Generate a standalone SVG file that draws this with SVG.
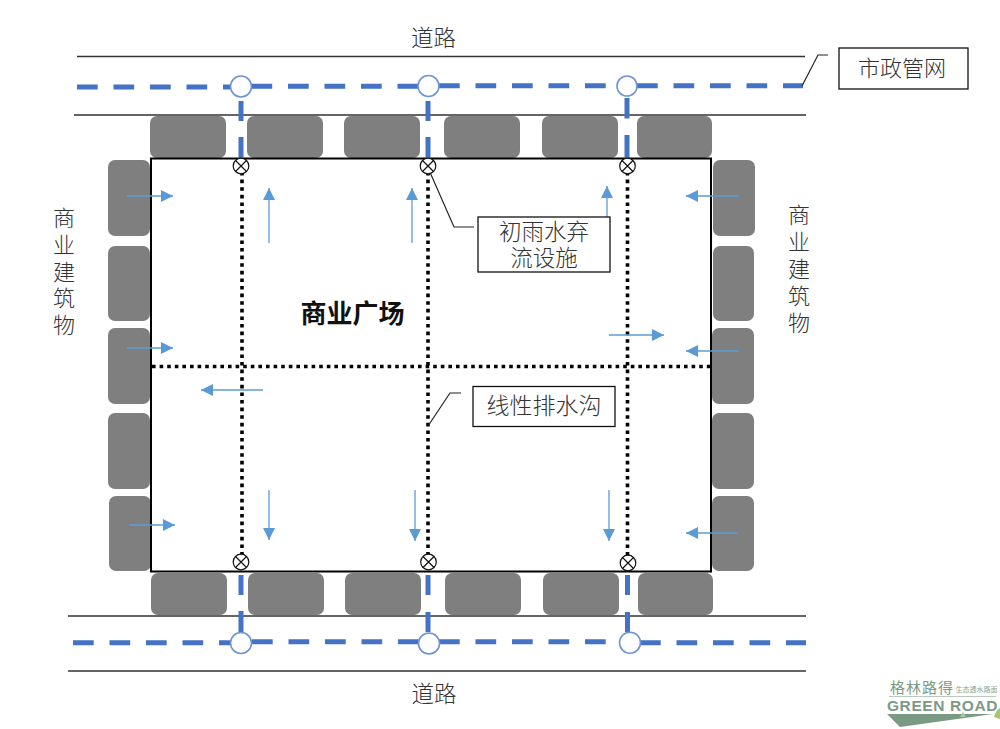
<svg xmlns="http://www.w3.org/2000/svg" width="1000" height="729" viewBox="0 0 1000 729">
<style>
text{font-family:"Liberation Sans","Noto Sans CJK SC",sans-serif;fill:#333;font-size:22px;font-weight:300;text-anchor:middle}
.b{fill:#7f7f7f;stroke:none}
.r{stroke:#333;stroke-width:1.4;fill:none}
.d{stroke:#4472c4;stroke-width:5;stroke-dasharray:20.7 15.8;fill:none}
.v{stroke:#4472c4;stroke-width:5;fill:none}
.o{fill:#fff;stroke:#6f94d6;stroke-width:1.6}
.dot{stroke:#000;stroke-width:3.6;stroke-dasharray:3.6 4;fill:none}
.a{stroke:#5b9bd5;stroke-width:1.3;fill:none;marker-end:url(#ah)}
.x{fill:#fff;stroke:#111;stroke-width:1.2}
.box{fill:#fff;stroke:#111;stroke-width:1.3}
.lead{fill:none;stroke:#222;stroke-width:1.2}
</style>
<defs>
<marker id="ah" markerUnits="userSpaceOnUse" markerWidth="13" markerHeight="12" refX="12" refY="6" orient="auto"><path d="M0 0L12 6L0 12Z" fill="#5b9bd5"/></marker>
<g id="xv"><circle r="7.800" class="x"/><path d="M-5.500-5.500L5.500 5.500M-5.500 5.500L5.500-5.500" stroke="#111" stroke-width="1.2"/></g>
</defs>
<rect width="1000" height="729" fill="#fff"/>
<g id="roads">
<path class="r" d="M77 56.500H805M74 115H806M68 616H806M68 671H806"/>
</g>
<g id="buildings">
<rect class="b" x="150" y="116" width="76" height="42" rx="7"/>
<rect class="b" x="247" y="116" width="76" height="42" rx="7"/>
<rect class="b" x="344" y="116" width="76" height="42" rx="7"/>
<rect class="b" x="444" y="116" width="76" height="42" rx="7"/>
<rect class="b" x="542" y="116" width="76" height="42" rx="7"/>
<rect class="b" x="637" y="116" width="75" height="42" rx="7"/>
<rect class="b" x="151" y="573" width="76" height="42" rx="7"/>
<rect class="b" x="248" y="573" width="76" height="42" rx="7"/>
<rect class="b" x="345" y="573" width="76" height="42" rx="7"/>
<rect class="b" x="445" y="573" width="76" height="42" rx="7"/>
<rect class="b" x="543" y="573" width="76" height="42" rx="7"/>
<rect class="b" x="638" y="573" width="75" height="42" rx="7"/>
<rect class="b" x="108" y="160" width="42" height="76" rx="7"/>
<rect class="b" x="108" y="246" width="42" height="75" rx="7"/>
<rect class="b" x="108" y="328" width="42" height="76" rx="7"/>
<rect class="b" x="108" y="413" width="42" height="76" rx="7"/>
<rect class="b" x="109" y="496" width="42" height="75" rx="7"/>
<rect class="b" x="713" y="160" width="42" height="76" rx="7"/>
<rect class="b" x="713" y="246" width="41" height="75" rx="7"/>
<rect class="b" x="712" y="328" width="42" height="76" rx="7"/>
<rect class="b" x="712" y="413" width="42" height="76" rx="7"/>
<rect class="b" x="712" y="496" width="42" height="75" rx="7"/>
</g>
<g id="connectors">
<rect x="151" y="158.500" width="560" height="413" fill="none" stroke="#000" stroke-width="2"/>
<path class="d" d="M77 87H241M251.500 86.200H428M439 85.700H627M637 85.700H803"/>
<path class="d" d="M73 642.700H241M252 641.700H429M439 641.700H630M640 642.700H806"/>
<path class="v" d="M241 101V121M241 137V158M428 101V121M428 137V158M627 98V118.500M627 135V158M241 575V595M241 611V632M428 575V595M428 612V632M627.500 575V595M627.500 612V632"/>
<path class="dot" d="M242 172V555M428 172V555M627.500 172V555M152 366.500H711"/>
<path class="a" d="M127 196H173"/>
<path class="a" d="M127 348H173"/>
<path class="a" d="M129 525H175"/>
<path class="a" d="M269 243V188"/>
<path class="a" d="M412 243V188"/>
<path class="a" d="M607 241V186"/>
<path class="a" d="M739 196H686"/>
<path class="a" d="M739 351H686"/>
<path class="a" d="M738 533H686"/>
<path class="a" d="M609 335H664"/>
<path class="a" d="M263 390H201"/>
<path class="a" d="M269 490V540"/>
<path class="a" d="M415 490V541"/>
<path class="a" d="M609 490V541"/>
<path class="lead" d="M429 170L454 227H474"/>
<path class="lead" d="M428 426L450 393H461"/>
<path class="lead" d="M802 86L818 55H828"/>
</g>
<g id="junctions">
<circle class="o" cx="241" cy="86.500" r="10.500"/>
<circle class="o" cx="428.500" cy="86" r="10.500"/>
<circle class="o" cx="627" cy="86" r="10"/>
<circle class="o" cx="241" cy="643" r="10.500"/>
<circle class="o" cx="429" cy="643.500" r="10.500"/>
<circle class="o" cx="630" cy="642.700" r="10.500"/>
<use href="#xv" x="241" y="166"/>
<use href="#xv" x="428" y="166"/>
<use href="#xv" x="627.500" y="166"/>
<use href="#xv" x="241" y="562"/>
<use href="#xv" x="428.500" y="562"/>
<use href="#xv" x="628" y="563"/>
</g>
<g id="labels">
<text x="433.500" y="46" style="font-size:22.500px">道路</text>
<text x="434" y="702" style="font-size:22.500px">道路</text>
<text x="352.500" y="323" style="font-size:26px;font-weight:700;fill:#111">商业广场</text>
<text><tspan x="64" y="226">商</tspan><tspan x="64" y="253">业</tspan><tspan x="64" y="279.500">建</tspan><tspan x="64" y="306">筑</tspan><tspan x="64" y="333">物</tspan></text>
<text><tspan x="799" y="223">商</tspan><tspan x="799" y="250">业</tspan><tspan x="799" y="277">建</tspan><tspan x="799" y="304">筑</tspan><tspan x="799" y="331">物</tspan></text>
</g>
<g id="box-shizheng"><rect class="box" x="839" y="48" width="129" height="41"/><text x="902" y="76">市政管网</text></g>
<g id="box-chuyu"><rect class="box" x="478" y="217" width="132" height="55"/><text style="font-size:22.500px"><tspan x="544" y="240">初雨水弃</tspan><tspan x="544" y="266">流设施</tspan></text></g>
<g id="box-paishui"><rect class="box" x="473" y="386.500" width="142" height="40"/><text x="544" y="414" style="font-size:23px">线性排水沟</text></g>
<g id="logo">
<text x="922" y="693" style="font-size:15px;font-weight:400;fill:#7b9a84;letter-spacing:1px">格林路得</text>
<text x="976.500" y="692" style="font-size:7px;font-weight:400;fill:#8aa592">生态透水路面</text>
<path d="M889 696.500H996" stroke="#b9c9bd" stroke-width="1"/>
<text x="942.500" y="711" style="font-weight:700;font-size:15.500px;fill:#7b9a84;letter-spacing:.6px">GREEN ROAD</text>
<path d="M887 714H993L900 727Z" fill="#7b9a84"/>
<path d="M963 712L966 717H960Z" fill="#a9c9a0"/>
<path d="M994 717Q996 710 1000 708V719Z" fill="#a9c46c"/>
</g>
</svg>
